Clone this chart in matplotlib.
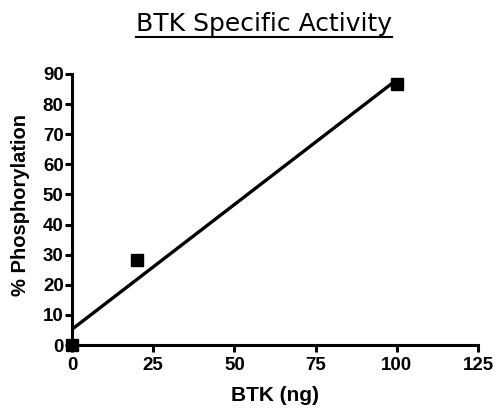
import numpy as np
import matplotlib
matplotlib.use("Agg")
from matplotlib import pyplot as plt
from matplotlib.lines import Line2D

btk_ng = [0, 20, 100]
phospho_pct = [0, 28.3, 86.8]
x_ticks = [0, 25, 50, 75, 100, 125]
y_ticks = [0, 10, 20, 30, 40, 50, 60, 70, 80, 90]

bold_font = ['Liberation Sans', 'DejaVu Sans']

fig = plt.figure(figsize=(4.96, 4.08), dpi=100)
ax = fig.add_axes([72 / 496, 1 - 345 / 408, (478 - 72) / 496, (345 - 74) / 408])

# linear regression line through the data
slope, icpt = np.polyfit(btk_ng, phospho_pct, 1)
xl = np.array([0, max(btk_ng)])
ax.plot(xl, slope * xl + icpt, color='black', lw=2.4, clip_on=False,
        solid_capstyle='butt')
ax.plot(btk_ng, phospho_pct, 's', color='black', ms=8, clip_on=False,
        zorder=5)

ax.set_xlim(0, 125)
ax.set_ylim(0, 90)
ax.set_xticks(x_ticks)
ax.set_yticks(y_ticks)
for s in ['top', 'right']:
    ax.spines[s].set_visible(False)
for s in ['left', 'bottom']:
    ax.spines[s].set_linewidth(2.2)
ax.tick_params(width=2.2, length=5, labelsize=13.5)
ax.tick_params(axis='x', pad=4)
ax.tick_params(axis='y', pad=1)
for lab in ax.get_xticklabels() + ax.get_yticklabels():
    lab.set_family(bold_font)
    lab.set_fontweight('bold')

ax.set_xlabel('BTK (ng)', family=bold_font, fontweight='bold', fontsize=15)
ax.set_ylabel('% Phosphorylation', family=bold_font, fontweight='bold',
              fontsize=14.5)
ax.xaxis.set_label_coords(0.5, (345 - 386) / 271)
ax.yaxis.set_label_coords((30 - 72) / 406, (345 - 205) / 271)

# underlined title
title = fig.text(263.5 / 496, 1 - 31 / 408, 'BTK Specific Activity',
                 ha='center', va='baseline', fontsize=18,
                 family=['DejaVu Sans'])
fig.canvas.draw()
bb = title.get_window_extent().transformed(fig.transFigure.inverted())
uy = 1 - 37 / 408
fig.add_artist(Line2D([bb.x0, bb.x1], [uy, uy],
                      transform=fig.transFigure, color='black', lw=1.5))

fig.savefig('out.png', dpi=100)
